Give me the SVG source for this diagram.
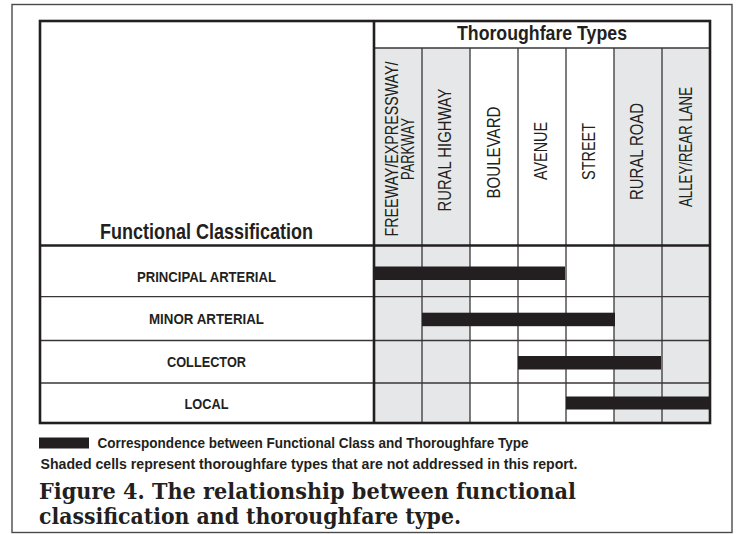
<svg xmlns="http://www.w3.org/2000/svg" width="737" height="534" viewBox="0 0 737 534">
<style>
.ink{fill:#231f20}
.shade{fill:#e6e7e8}
.thick{stroke:#231f20;stroke-width:2.6;fill:none}
.thin{stroke:#3a3637;stroke-width:1.3;fill:none}
.hd{font-family:"Liberation Sans",Arial,sans-serif;font-weight:bold;fill:#231f20}
.col{font-family:"Liberation Sans",Arial,sans-serif;font-size:17.5px;fill:#231f20;text-anchor:middle}
.row{font-family:"Liberation Sans",Arial,sans-serif;font-weight:bold;font-size:15.5px;fill:#231f20;text-anchor:middle}
.leg{font-family:"Liberation Sans",Arial,sans-serif;font-weight:bold;font-size:15px;fill:#231f20}
.cap{font-family:"DejaVu Serif","Liberation Serif",serif;font-weight:bold;font-size:22px;fill:#231f20}
</style>
<rect width="737" height="534" fill="#ffffff"/>
<rect x="12" y="4.5" width="720" height="528" fill="none" stroke="#4a4a4a" stroke-width="1.4"/>

<g id="shading">
<rect class="shade" x="374" y="48" width="96" height="375"/>
<rect class="shade" x="614" y="48" width="96" height="375"/>
</g>

<g id="grid">
<line class="thin" x1="374" y1="48" x2="710" y2="48"/>
<line class="thin" x1="422" y1="48" x2="422" y2="423"/>
<line class="thin" x1="470" y1="48" x2="470" y2="423"/>
<line class="thin" x1="518" y1="48" x2="518" y2="423"/>
<line class="thin" x1="566" y1="48" x2="566" y2="423"/>
<line class="thin" x1="614" y1="48" x2="614" y2="423"/>
<line class="thin" x1="662" y1="48" x2="662" y2="423"/>
<line class="thin" x1="40" y1="296.7" x2="710" y2="296.7"/>
<line class="thin" x1="40" y1="340.5" x2="710" y2="340.5"/>
<line class="thin" x1="40" y1="383" x2="710" y2="383"/>
<line class="thick" x1="40" y1="245.5" x2="710" y2="245.5" stroke-width="2.2"/>
<line class="thick" x1="374" y1="21" x2="374" y2="423"/>
<rect class="thick" x="40" y="21" width="670" height="402"/>
</g>

<g id="header-functional">
<text class="hd" x="206.5" y="239" font-size="22.5" text-anchor="middle" textLength="213" lengthAdjust="spacingAndGlyphs">Functional Classification</text>
</g>
<g id="header-thoroughfare">
<text class="hd" x="542" y="40" font-size="20.5" text-anchor="middle" textLength="170" lengthAdjust="spacingAndGlyphs">Thoroughfare Types</text>
</g>

<g id="col-freeway">
<text class="col" font-size="16" transform="translate(397.5,149) rotate(-90)" textLength="175" lengthAdjust="spacingAndGlyphs">FREEWAY/EXPRESSWAY/</text>
<text class="col" font-size="16" transform="translate(414.3,149) rotate(-90)" textLength="62" lengthAdjust="spacingAndGlyphs">PARKWAY</text>
</g>
<g id="col-rural-highway">
<text class="col" transform="translate(450.8,150) rotate(-90)" textLength="123" lengthAdjust="spacingAndGlyphs">RURAL HIGHWAY</text>
</g>
<g id="col-boulevard">
<text class="col" transform="translate(499.5,152.5) rotate(-90)" textLength="92" lengthAdjust="spacingAndGlyphs">BOULEVARD</text>
</g>
<g id="col-avenue">
<text class="col" transform="translate(546.5,151) rotate(-90)" textLength="58" lengthAdjust="spacingAndGlyphs">AVENUE</text>
</g>
<g id="col-street">
<text class="col" transform="translate(594.8,151.5) rotate(-90)" textLength="57" lengthAdjust="spacingAndGlyphs">STREET</text>
</g>
<g id="col-rural-road">
<text class="col" transform="translate(643.2,151.5) rotate(-90)" textLength="97" lengthAdjust="spacingAndGlyphs">RURAL ROAD</text>
</g>
<g id="col-alley">
<text class="col" transform="translate(691.5,147) rotate(-90)" textLength="120" lengthAdjust="spacingAndGlyphs">ALLEY/REAR LANE</text>
</g>

<g id="row-principal">
<text class="row" x="206.5" y="281.7" textLength="139" lengthAdjust="spacingAndGlyphs">PRINCIPAL ARTERIAL</text>
</g>
<g id="row-minor">
<text class="row" x="206.5" y="324.3" textLength="115" lengthAdjust="spacingAndGlyphs">MINOR ARTERIAL</text>
</g>
<g id="row-collector">
<text class="row" x="206.5" y="367" textLength="79" lengthAdjust="spacingAndGlyphs">COLLECTOR</text>
</g>
<g id="row-local">
<text class="row" x="206.5" y="408.7" textLength="44" lengthAdjust="spacingAndGlyphs">LOCAL</text>
</g>

<g id="connectors">
<rect class="ink" x="374" y="266.5" width="191" height="13.5"/>
<rect class="ink" x="422" y="312.7" width="193" height="13.5"/>
<rect class="ink" x="518" y="356" width="143" height="13.5"/>
<rect class="ink" x="566" y="396.5" width="145" height="13"/>
</g>

<g id="legend">
<rect class="ink" x="39" y="437.5" width="50" height="11"/>
<text class="leg" x="97.5" y="448" textLength="431" lengthAdjust="spacingAndGlyphs">Correspondence between Functional Class and Thoroughfare Type</text>
<text class="leg" x="40.5" y="469" textLength="537" lengthAdjust="spacingAndGlyphs">Shaded cells represent thoroughfare types that are not addressed in this report.</text>
</g>

<g id="caption">
<text class="cap" x="39" y="498.5" textLength="537" lengthAdjust="spacingAndGlyphs">Figure 4. The relationship between functional</text>
<text class="cap" x="39" y="523.5" textLength="422" lengthAdjust="spacingAndGlyphs">classification and thoroughfare type.</text>
</g>
</svg>
